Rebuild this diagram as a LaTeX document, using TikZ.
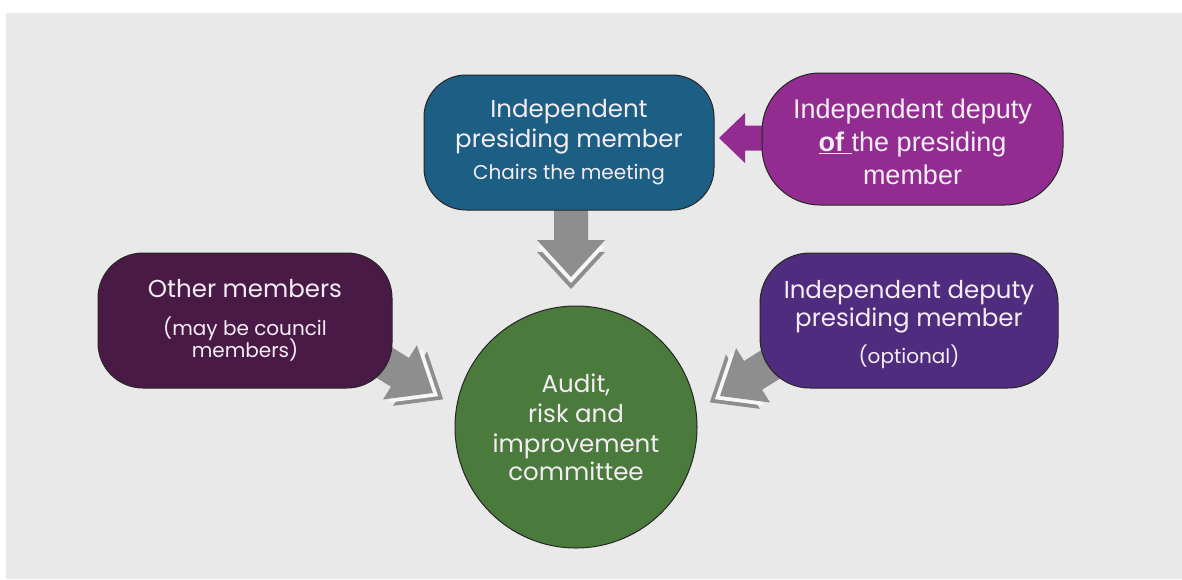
\documentclass[tikz,border=0pt]{standalone}
\usepackage{fontspec}
\setmainfont{Poppins}
\newfontfamily\arialfont{Liberation Sans}
\definecolor{bgc}{HTML}{E9E9E9}
\definecolor{bluebox}{HTML}{1D5E84}
\definecolor{magbox}{HTML}{922C90}
\definecolor{leftbox}{HTML}{4A1A46}
\definecolor{rightbox}{HTML}{4F2C7D}
\definecolor{greenc}{HTML}{4A7A3C}
\definecolor{arrowgray}{HTML}{8E8E8E}
\definecolor{gapc}{HTML}{F7F7F7}
\definecolor{txt}{HTML}{F4EEF4}
\newcommand\bigtxt{\fontsize{24.5}{30}\selectfont}
\newcommand\smalltxt{\fontsize{20}{23}\selectfont}
\newcommand\arialtxt{\arialfont\fontsize{27}{33}\selectfont}
\tikzset{
  box/.style={draw=black!85, line width=1pt, text=txt, align=center, inner sep=0pt},
}
% fat arrow in local coords: tip at origin, pointing +x
\newcommand\fatarrow[5]{% #1 H, #2 W, #3 w, #4 S, #5 colour
  \fill[#5] (0,0) -- (-#1,#2) -- (-#1,#3) -- ({-#1-#4},#3) -- ({-#1-#4},-#3) -- (-#1,-#3) -- (-#1,-#2) -- cycle;}
\newcommand\chevshadow[2]{% #1 H, #2 W
  \fill[arrowgray] (12,0) -- ({12-#1},#2) -- ({12-#1},-#2) -- cycle;
  \fill[gapc] (6,0) -- ({6-#1},#2) -- ({6-#1},-#2) -- cycle;}
\begin{document}
\begin{tikzpicture}[x=1pt,y=-1pt]
\useasboundingbox (0,0) rectangle (1182,579);
\fill[white] (0,0) rectangle (1182,579);
\fill[bgc] (6,13) rectangle (1182,579);

% arrows (behind boxes)
\begin{scope}[shift={(571,277)},rotate=-90]
  \chevshadow{37}{34}
  \fatarrow{37}{34}{17}{72}{arrowgray}
\end{scope}
\begin{scope}[shift={(433,393)},rotate=-32]
  \chevshadow{39}{32}
  \fatarrow{39}{32}{17}{50}{arrowgray}
\end{scope}
\begin{scope}[shift={(720,396)},rotate=-148]
  \chevshadow{39}{32}
  \fatarrow{39}{32}{17}{50}{arrowgray}
\end{scope}
\begin{scope}[shift={(719,138)},rotate=180]
  \fatarrow{26}{25}{12.5}{40}{magbox}
\end{scope}

\node[box, font=\bigtxt, fill=bluebox, minimum width=290pt, minimum height=135pt, rounded corners=42pt] (chair) at (569,142.5)
  {Independent\\ presiding member\\[2pt] \smalltxt Chairs the meeting};
\node[box, font=\arialtxt, fill=magbox, minimum width=301pt, minimum height=132pt, rounded corners=58pt] (deputyof) at (912.5,139)
  {\rule{0pt}{26pt}Independent deputy\\ \underline{\textbf{of}\ }the presiding\\ member};
\node[box, font=\bigtxt, fill=leftbox, minimum width=294pt, minimum height=135pt, rounded corners=45pt] (others) at (245,320.5)
  {Other members\\[8pt] \smalltxt (may be council\\[-8pt] \smalltxt members)};
\node[box, font=\bigtxt, fill=rightbox, minimum width=298pt, minimum height=135pt, rounded corners=50pt] (deputy) at (909,320.5)
  {\rule{0pt}{27pt}Independent deputy\\[-2pt] presiding member\\[7pt] \smalltxt (optional)};
\node[box, font=\bigtxt, fill=greenc, circle, minimum size=242pt] (aric) at (576,427)
  {Audit,\\ risk and\\ improvement\\[-2pt] committee};
\end{tikzpicture}
\end{document}
